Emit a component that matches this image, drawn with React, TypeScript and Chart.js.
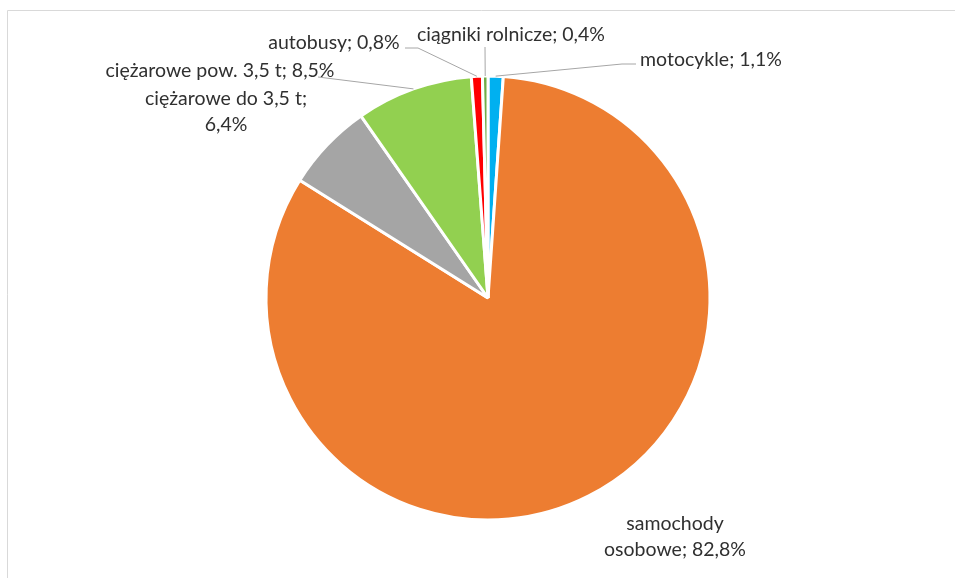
import React, { useEffect, useRef } from "react";
import { Chart, registerables } from "chart.js";

Chart.register(...registerables);

const categories = [
  "motocykle",
  "samochody osobowe",
  "ciężarowe do 3,5 t",
  "ciężarowe pow. 3,5 t",
  "autobusy",
  "ciągniki rolnicze",
];
const shares = [1.1, 82.8, 6.4, 8.5, 0.8, 0.4];
const labelLines = [
  ["motocykle; 1,1%"],
  ["samochody", "osobowe; 82,8%"],
  ["ciężarowe do 3,5 t;", "6,4%"],
  ["ciężarowe pow. 3,5 t; 8,5%"],
  ["autobusy; 0,8%"],
  ["ciągniki rolnicze; 0,4%"],
];
const colors = ["#00B0F0", "#ED7D31", "#A5A5A5", "#92D050", "#FF0000", "#70AD47"];

// label layout (text centre) and leader-line elbow points
const labelPos = [
  { x: 711, y: 60, elbow: [[622, 64], [636, 64]] },
  { x: 675, y: 524, elbow: null },
  { x: 226, y: 99, elbow: null },
  { x: 220, y: 71, elbow: [[318, 77]] },
  { x: 334, y: 43, elbow: [[418, 48], [405, 48]] },
  { x: 511, y: 35, elbow: [[485, 47]] },
];

const FONT = "19.5px Lato, Carlito, 'Liberation Sans', sans-serif";

const labelPlugin = {
  id: "pieLabels",
  beforeDraw(chart: any) {
    const ctx = chart.ctx;
    ctx.save();
    ctx.strokeStyle = "#D9D9D9";
    ctx.lineWidth = 1;
    ctx.beginPath();
    ctx.moveTo(7.5, 1000);
    ctx.lineTo(7.5, 10.5);
    ctx.lineTo(1000, 10.5);
    ctx.stroke();
    ctx.restore();
  },
  afterDraw(chart: any) {
    const ctx = chart.ctx;
    const meta = chart.getDatasetMeta(0);
    ctx.save();
    meta.data.forEach((arc: any, i: number) => {
      const p = labelPos[i];
      if (p.elbow) {
        const mid = (arc.startAngle + arc.endAngle) / 2;
        const r = arc.outerRadius;
        const sx = arc.x + Math.cos(mid) * r;
        const sy = arc.y + Math.sin(mid) * r;
        ctx.strokeStyle = "#A6A6A6";
        ctx.lineWidth = 1;
        ctx.beginPath();
        ctx.moveTo(sx, sy);
        p.elbow.forEach((pt: number[]) => ctx.lineTo(pt[0], pt[1]));
        ctx.stroke();
      }
    });
    ctx.fillStyle = "#303030";
    ctx.font = FONT;
    ctx.textAlign = "center";
    ctx.textBaseline = "middle";
    labelLines.forEach((lines, i) => {
      const p = labelPos[i];
      lines.forEach((t, j) => ctx.fillText(t, p.x, p.y + j * 26));
    });
    ctx.restore();
  },
};

export default function App() {
  const ref = useRef<HTMLCanvasElement>(null);
  useEffect(() => {
    document.body.style.margin = "0";
    const chart = new Chart(ref.current!, {
      type: "pie",
      data: {
        labels: categories,
        datasets: [
          {
            data: shares,
            backgroundColor: colors,
            borderColor: "#FFFFFF",
            borderWidth: 3,
          },
        ],
      },
      options: {
        animation: false,
        responsive: false,
        radius: 222,
        layout: { padding: { top: 74, bottom: 56, left: 188, right: 167 } },
        plugins: {
          legend: { display: false },
          tooltip: { enabled: false },
        },
      },
      plugins: [labelPlugin],
    });
    return () => chart.destroy();
  }, []);
  return (
    <div style={{ position: "absolute", left: 0, top: 0, width: 955, height: 578, background: "#fff" }}>
      <canvas ref={ref} width={955} height={578} />
    </div>
  );
}
